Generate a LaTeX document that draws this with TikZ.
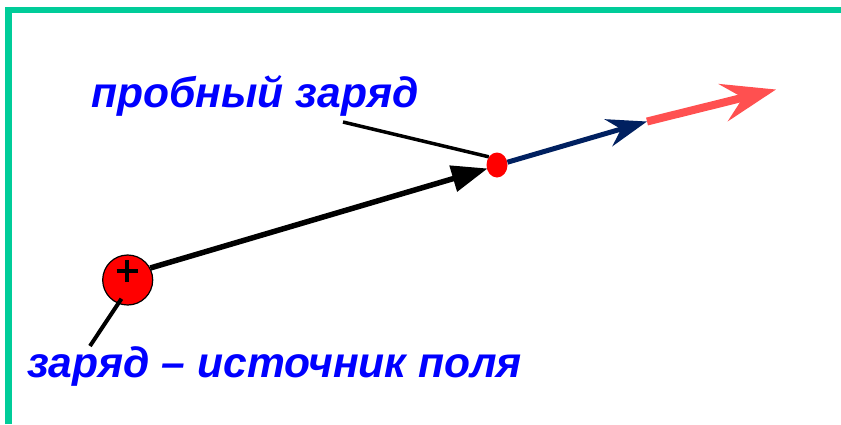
\documentclass[tikz,border=0pt]{standalone}
\usepackage{fontspec}
\setmainfont{Liberation Sans}
\usetikzlibrary{arrows.meta,shapes.geometric}
\definecolor{framegreen}{RGB}{0,204,153}
\definecolor{labelblue}{RGB}{0,0,255}
\definecolor{navyarrow}{RGB}{0,32,96}
\definecolor{redarrow}{RGB}{255,80,80}
\tikzset{
  frameline/.style={draw=framegreen,line width=6.5pt,line join=miter},
  labeltext/.style={text=labelblue,font=\fontsize{42.6}{50}\selectfont\bfseries\itshape,inner sep=0pt,anchor=base west},
  pointer/.style={draw=black,line width=3.5pt},
  charge/.style={circle,draw=black,line width=1.2pt,fill=red,minimum size=50pt,inner sep=0pt},
  testcharge/.style={ellipse,fill=red,minimum width=21pt,minimum height=25pt,inner sep=0pt},
  fieldline/.style={draw=black,line width=5.5pt,-{Triangle[length=36pt,width=26pt]}},
  vecnavy/.style={draw=navyarrow,line width=5pt,-{Stealth[length=40pt,width=28pt,inset=13pt]}},
  vecred/.style={draw=redarrow,line width=8pt,-{Stealth[length=54pt,width=38pt,inset=20pt]}}
}
\begin{document}
\begin{tikzpicture}[x=1pt,y=-1pt]
\useasboundingbox (0,0) rectangle (841,424);
\draw[frameline] (8.3,424) -- (8.3,10) -- (841,10);
\node[charge] (src) at (127.7,280) {};
\draw[line width=4pt] (116.5,271) -- (137.5,271) (127,260) -- (127,282);
\node[testcharge] (test) at (497,165) {};
\coordinate (v1) at (647,121.5);
\coordinate (v2) at (776,89.5);
\coordinate (p1) at (343,122);
\coordinate (p2) at (90,346);
\draw[fieldline,shorten >=-1pt] (src.28) -- (test.200);
\draw[vecnavy] (test.15) -- (v1);
\draw[vecred] (v1) -- (v2);
\draw[pointer] (p1) -- (test.135);
\draw[pointer,line width=4pt,shorten <=-6pt] (src.248) -- (p2);
\node[labeltext] (lbl1) at (91,107) {пробный заряд};
\node[labeltext] (lbl2) at (27,377) {заряд – источник поля};
\end{tikzpicture}
\end{document}
